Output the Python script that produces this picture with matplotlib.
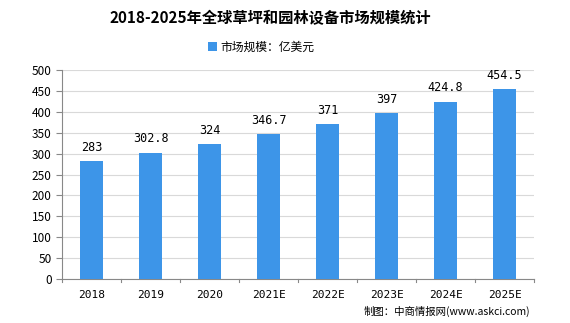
import matplotlib.pyplot as plt

plt.rcParams['font.family'] = ['Noto Sans CJK SC', 'DejaVu Sans']

years = ['2018', '2019', '2020', '2021E', '2022E', '2023E', '2024E', '2025E']
values = [283, 302.8, 324, 346.7, 371, 397, 424.8, 454.5]
value_labels = ['283', '302.8', '324', '346.7', '371', '397', '424.8', '454.5']

fig = plt.figure(figsize=(5.7, 3.23), dpi=100)
ax = fig.add_axes([0.109, 0.136, 0.828, 0.647])

x = list(range(len(years)))
ax.bar(x, values, width=0.38, color='#3d95e8', zorder=3, label='市场规模：亿美元')
for xi, v, t in zip(x, values, value_labels):
    ax.text(xi, v + 17, t, ha='center', va='bottom', fontsize=8.5,
            family=['DejaVu Sans Mono'])

ax.set_xlim(-0.5, len(years) - 0.5)
ax.set_ylim(0, 500)
ax.set_yticks(range(0, 501, 50))
ax.set_xticks(x)
ax.set_xticklabels(years, fontsize=8, family=['DejaVu Sans Mono'])
ax.tick_params(axis='y', labelsize=8.5, length=4, color='#888888')
ax.tick_params(axis='x', length=0, pad=8)
# boundary ticks between categories
for b in [i - 0.5 for i in range(len(years) + 1)]:
    ax.plot([b, b], [0, -8], color='#888888', lw=0.8, clip_on=False)
ax.grid(axis='y', color='#d9d9d9', lw=0.8, zorder=0)
for s in ['top', 'right']:
    ax.spines[s].set_visible(False)
ax.spines['left'].set_color('#888888')
ax.spines['bottom'].set_color('#888888')

fig.text(0.475, 0.945, '2018-2025年全球草坪和园林设备市场规模统计', ha='center', va='center',
         fontsize=11, fontweight='bold')
fig.legend(loc='center', bbox_to_anchor=(0.458, 0.855), frameon=False, fontsize=8.5,
           handlelength=0.8, handleheight=0.8, handletextpad=0.3)
fig.text(0.93, 0.035, '制图：中商情报网(www.askci.com)', ha='right', va='center', fontsize=7.5)

fig.savefig('out.png', dpi=100)
